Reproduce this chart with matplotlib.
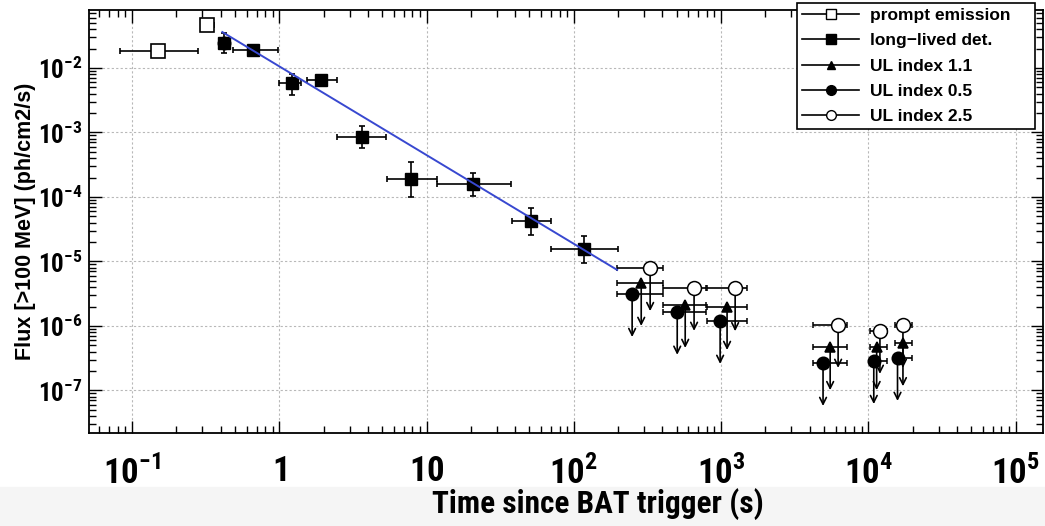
import numpy as np
import matplotlib
matplotlib.use("Agg")
import matplotlib.pyplot as plt
from matplotlib.lines import Line2D
from matplotlib.ticker import LogLocator, FixedLocator, NullFormatter

narrow = "Roboto Condensed"
plt.rcParams["font.family"] = ["Liberation Sans", "DejaVu Sans"]
plt.rcParams["mathtext.fontset"] = "custom"
plt.rcParams["mathtext.rm"] = narrow + ":bold"
plt.rcParams["mathtext.bf"] = narrow + ":bold"

# prompt emission (open squares)
prompt_t = [0.151, 0.325]
prompt_tlo = [0.083, 0.292]
prompt_thi = [0.282, 0.360]
prompt_f = [0.0184, 0.0464]

# long-lived detections (filled squares)
det_t = [0.42, 0.667, 1.21, 1.93, 3.66, 7.87, 20.7, 51.4, 118]
det_tlo = [0.40, 0.487, 1.0, 1.55, 2.47, 5.41, 11.8, 38.0, 70.0]
det_thi = [0.45, 0.985, 1.40, 2.48, 5.3, 11.8, 37.6, 70.0, 200.0]
det_f = [0.0244, 0.0190, 0.00585, 0.0065, 8.5e-4, 1.9e-4, 1.58e-4, 4.25e-5, 1.56e-5]
det_flo = [0.0170, 0.0172, 0.0038, 0.0056, 5.8e-4, 1.0e-4, 1.04e-4, 2.6e-5, 9.5e-6]
det_fhi = [0.0344, 0.0210, 0.0081, 0.0077, 1.26e-3, 3.5e-4, 2.36e-4, 6.7e-5, 2.5e-5]

# power-law decay fit, end points
fit_t = [0.41, 197.0]
fit_f = [0.0361, 7.4e-6]

# upper limits, shared time bins
ul_tlo = [198, 404, 805, 4220, 1.03e4, 1.52e4]
ul_thi = [404, 793, 1503, 7180, 1.34e4, 1.98e4]
ul25_t = [330, 656, 1247, 6240, 1.20e4, 1.72e4]
ul25_f = [7.9e-6, 3.9e-6, 3.85e-6, 1.04e-6, 8.4e-7, 1.04e-6]
ul11_t = [287, 571, 1099, 5510, 1.14e4, 1.72e4]
ul11_f = [4.65e-6, 2.12e-6, 1.97e-6, 4.7e-7, 4.7e-7, 5.4e-7]
ul05_t = [249, 504, 986, 4930, 1.09e4, 1.58e4]
ul05_f = [3.13e-6, 1.66e-6, 1.2e-6, 2.67e-7, 2.86e-7, 3.2e-7]

xticks = [0.1, 1, 10, 100, 1e3, 1e4, 1e5]
xticklabels = [r"$10^{-1}$", r"$1$", r"$10$", r"$10^{2}$", r"$10^{3}$", r"$10^{4}$", r"$10^{5}$"]
yticks = [1e-7, 1e-6, 1e-5, 1e-4, 1e-3, 1e-2]
yticklabels = [r"$10^{-7}$", r"$10^{-6}$", r"$10^{-5}$", r"$10^{-4}$", r"$10^{-3}$", r"$10^{-2}$"]

fig = plt.figure(figsize=(10.45, 5.26), dpi=100)
fig.patches.append(plt.Rectangle((0, 0), 1, 0.074, transform=fig.transFigure,
                                 color="#f5f5f5", zorder=-10))
ax = fig.add_axes([0.0852, 0.1768, 0.9130, 0.8042])
ax.set_xscale("log")
ax.set_yscale("log")
ax.set_xlim(0.051, 1.54e5)
ax.set_ylim(2.19e-8, 0.0793)

ebkw = dict(ecolor="k", elinewidth=1.2, capsize=2.5, capthick=1.2, linestyle="none")


def xerr(t, lo, hi):
    t = np.array(t)
    return [t - np.array(lo), np.array(hi) - t]


def yerr(f, lo, hi):
    f = np.array(f)
    return [f - np.array(lo), np.array(hi) - f]


ax.errorbar(prompt_t, prompt_f, xerr=xerr(prompt_t, prompt_tlo, prompt_thi),
            marker="s", ms=10, mfc="white", mec="k", mew=1.2, zorder=4, **ebkw)
ax.errorbar(det_t, det_f, xerr=xerr(det_t, det_tlo, det_thi),
            yerr=yerr(det_f, det_flo, det_fhi),
            marker="s", ms=9, mfc="k", mec="k", zorder=4, **ebkw)
ax.plot(det_t[:1], det_f[:1], "o", ms=9, color="k", zorder=4)

ax.plot(fit_t, fit_f, color="#3848d0", lw=1.4, zorder=6)

arrow_drop = 10 ** -0.667
for ts, fs, mk, face, ms in [(ul05_t, ul05_f, "o", "k", 9),
                             (ul11_t, ul11_f, "^", "k", 7),
                             (ul25_t, ul25_f, "o", "white", 10)]:
    ax.errorbar(ts, fs, xerr=xerr(ts, ul_tlo, ul_thi), marker=mk, ms=ms,
                mfc=face, mec="k", mew=1.1, zorder=5, **ebkw)
    for t, f in zip(ts, fs):
        ax.annotate("", xy=(t, f * arrow_drop), xytext=(t, f),
                    arrowprops=dict(arrowstyle="->", color="k", lw=1.2,
                                    mutation_scale=12, shrinkA=0, shrinkB=0),
                    zorder=4)

# axes styling
ax.xaxis.set_major_locator(FixedLocator(xticks))
ax.set_xticklabels(xticklabels, fontsize=25)
ax.xaxis.set_minor_locator(LogLocator(base=10, subs=np.arange(2, 10), numticks=20))
ax.xaxis.set_minor_formatter(NullFormatter())
ax.yaxis.set_major_locator(FixedLocator(yticks))
ax.set_yticklabels(yticklabels, fontsize=18)
ax.yaxis.set_minor_locator(LogLocator(base=10, subs=np.arange(2, 10), numticks=20))
ax.yaxis.set_minor_formatter(NullFormatter())
ax.tick_params(which="both", direction="in", top=True, right=True, width=1.0)
ax.tick_params(which="major", length=9)
ax.tick_params(which="minor", length=5)
ax.tick_params(axis="x", which="major", pad=16)
ax.tick_params(axis="y", which="major", pad=5)
for s in ax.spines.values():
    s.set_linewidth(1.3)

ax.grid(True, which="major", color="#b8b8b8", linestyle=(0, (2, 2)), lw=0.8)

ax.set_xlabel("Time since BAT trigger (s)", fontsize=22.5, fontweight="bold",
              family=[narrow, "DejaVu Sans"])
ax.xaxis.set_label_coords(0.533, -0.13)
ax.set_ylabel("Flux [>100 MeV] (ph/cm2/s)", fontsize=15.5, fontweight="bold",
              labelpad=1)

handles = [
    Line2D([], [], color="k", lw=1.2, marker="s", ms=7, mfc="white", mec="k"),
    Line2D([], [], color="k", lw=1.2, marker="s", ms=7, mfc="k", mec="k"),
    Line2D([], [], color="k", lw=1.2, marker="^", ms=6, mfc="k", mec="k"),
    Line2D([], [], color="k", lw=1.2, marker="o", ms=7, mfc="k", mec="k"),
    Line2D([], [], color="k", lw=1.2, marker="o", ms=7, mfc="white", mec="k"),
]
labels = ["prompt emission", "long\u2212lived det.", "UL index 1.1",
          "UL index 0.5", "UL index 2.5"]
leg = ax.legend(handles, labels, loc="upper left",
                bbox_to_anchor=(0.742, 0.723, 0.250, 0.294), mode="expand",
                frameon=True, fancybox=False, edgecolor="k", framealpha=1,
                prop=dict(size=12.5, weight="bold"), handlelength=3.3,
                labelspacing=0.58, borderpad=0.3, handletextpad=0.6,
                borderaxespad=0)
leg.get_frame().set_linewidth(1.2)
leg.set_zorder(10)

fig.savefig("out.png", dpi=100)
